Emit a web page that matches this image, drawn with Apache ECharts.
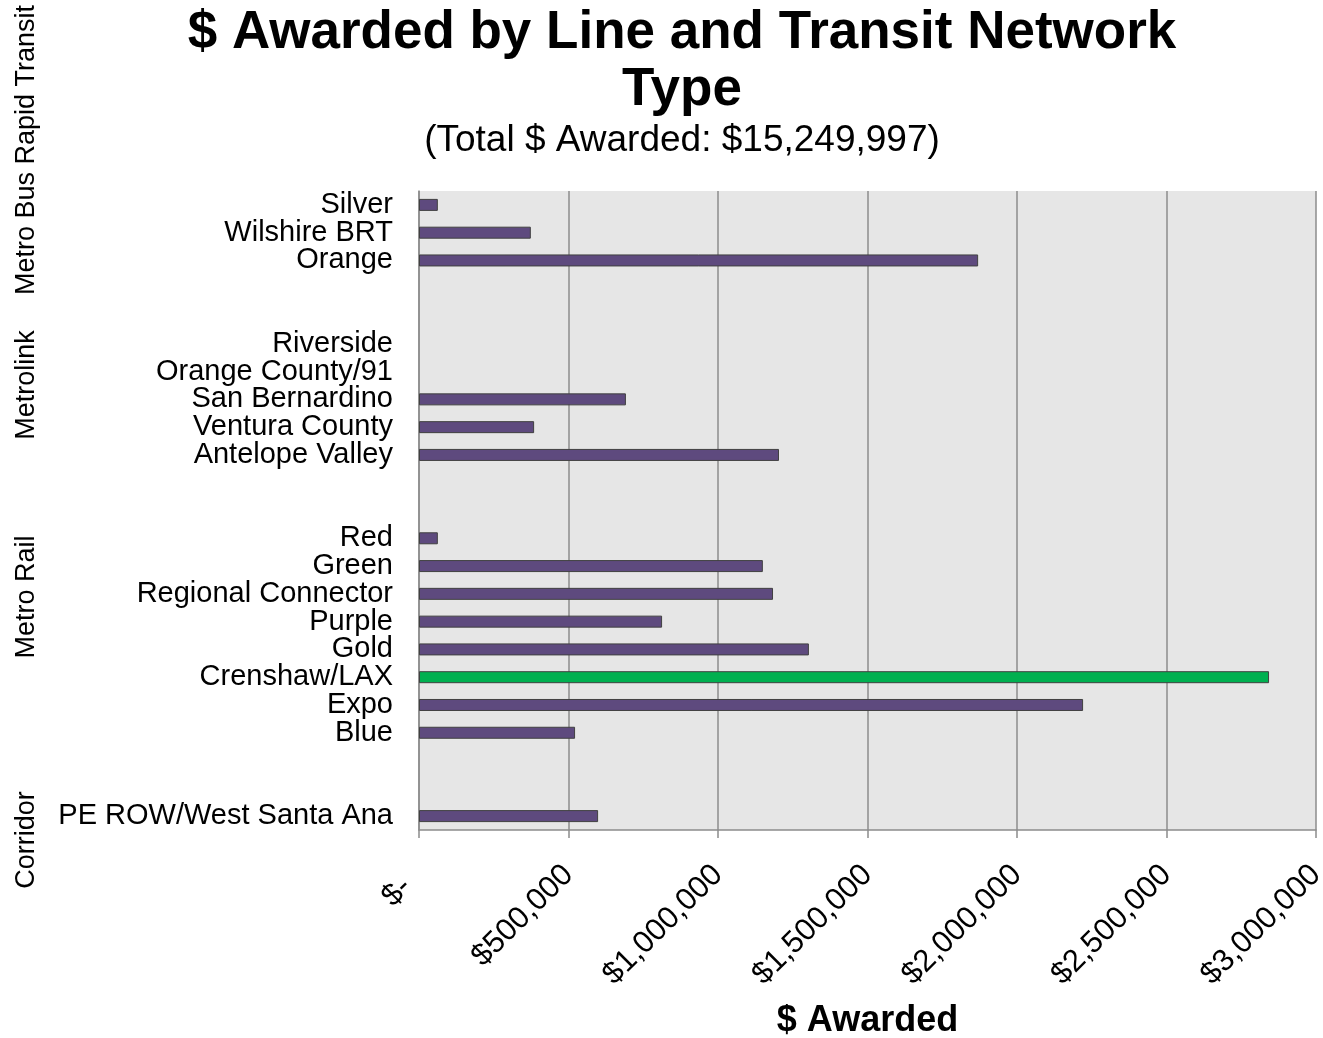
<!DOCTYPE html>
<html>
<head>
<meta charset="utf-8">
<script src="https://cdn.jsdelivr.net/npm/echarts@6/dist/echarts.min.js"></script>
<style>html,body{margin:0;padding:0;background:#fff}#c{width:1323px;height:1038px}</style>
</head>
<body>
<div id="c"></div>
<script>
// Categories top to bottom ("_gapN" are empty spacer slots)
const categories = ['Silver','Wilshire BRT','Orange','_gap1','_gap2','Riverside','Orange County/91','San Bernardino','Ventura County','Antelope Valley','_gap3','_gap4','Red','Green','Regional Connector','Purple','Gold','Crenshaw/LAX','Expo','Blue','_gap5','_gap6','PE ROW/West Santa Ana'];
const awarded = [63000, 374000, 1870000, null, null, null, null, 692000, 385000, 1204000, null, null, 63000, 1150000, 1184000, 813000, 1304000, 2843000, 2221000, 522000, null, null, 599000];
const highlight = ['Crenshaw/LAX'];
const groupLabels = ['Metro Bus Rapid Transit', 'Metrolink', 'Metro Rail', 'Corridor'];
const groupLabelY = [150, 385, 597, 840];
const xTicks = [0, 500000, 1000000, 1500000, 2000000, 2500000, 3000000];

const FONT = '"Liberation Sans", Arial, sans-serif';
const chart = echarts.init(document.getElementById('c'));
chart.setOption({
  animation: false,
  backgroundColor: '#fff',
  title: [
    { text: '$ Awarded by Line and Transit Network\nType', left: 677, top: 0, textAlign: 'center',
      textStyle: { fontFamily: FONT, fontSize: 53, fontWeight: 'bold', color: '#000', lineHeight: 57 } },
    { text: '(Total $ Awarded: $15,249,997)', left: 677, top: 117, textAlign: 'center',
      textStyle: { fontFamily: FONT, fontSize: 37, fontWeight: 'normal', color: '#000' } }
  ],
  grid: { left: 419, right: 7, top: 191, bottom: 208, show: true, backgroundColor: '#e6e6e6', borderWidth: 0,
    containLabel: false, outerBoundsMode: 'none' },
  xAxis: {
    type: 'value', min: xTicks[0], max: xTicks[xTicks.length - 1], interval: 500000,
    name: '$ Awarded', nameLocation: 'middle', nameGap: 173,
    nameTextStyle: { fontFamily: FONT, fontSize: 36, fontWeight: 'bold', color: '#000' },
    axisLine: { show: true, lineStyle: { color: '#8c8c8c', width: 1.5 } },
    axisTick: { show: true, length: 8, lineStyle: { color: '#8c8c8c', width: 1.5 } },
    splitLine: { show: true, lineStyle: { color: '#8c8c8c', width: 1.5 } },
    axisLabel: { rotate: 45, margin: 40, fontFamily: FONT, fontSize: 31, color: '#000',
      formatter: v => v === 0 ? '$-\u00a0\u00a0' : '$' + v.toLocaleString('en-US') }
  },
  yAxis: {
    type: 'category', data: categories, inverse: true,
    axisLine: { show: true, lineStyle: { color: '#8c8c8c', width: 1.5 } },
    axisTick: { show: false },
    splitLine: { show: false },
    axisLabel: { margin: 26, fontFamily: FONT, fontSize: 29, color: '#000', interval: 0,
      formatter: v => v.startsWith('_gap') ? '' : v }
  },
  series: [{
    type: 'bar', barWidth: 12,
    data: awarded.map((v, i) => ({
      value: v,
      itemStyle: { color: highlight.includes(categories[i]) ? '#00b050' : '#5e4a7e', borderColor: '#404040', borderWidth: 1 }
    }))
  }],
  graphic: groupLabels.map((t, i) => ({
    type: 'text', x: 27, y: groupLabelY[i], rotation: Math.PI / 2,
    style: { text: t, fontFamily: FONT, fontSize: 27, fill: '#000', align: 'center', verticalAlign: 'middle' }
  }))
});
</script>
</body>
</html>
